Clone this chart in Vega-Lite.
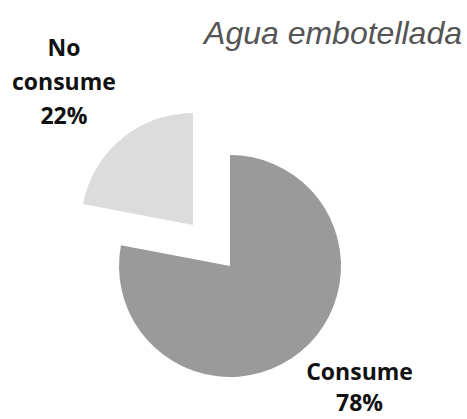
{
  "$schema": "https://vega.github.io/schema/vega-lite/v6.json",
  "autosize": "none",
  "width": 460,
  "height": 306,
  "padding": {"left": 0, "right": 7, "top": 113, "bottom": 0},
  "background": "white",
  "title": {
    "text": "Agua embotellada",
    "anchor": "end",
    "frame": "group",
    "font": "Liberation Sans",
    "fontSize": 32,
    "fontStyle": "italic",
    "fontWeight": "normal",
    "color": "#555555",
    "baseline": "alphabetic",
    "offset": 0,
    "dy": 38,
    "dx": 2
  },
  "data": {
    "values": [
      {"category": "Consume", "value": 78, "label": "Consume\n78%"},
      {"category": "No consume", "value": 22, "label": "No\nconsume\n22%"}
    ]
  },
  "encoding": {
    "theta": {"field": "value", "type": "quantitative", "stack": true, "scale": {"domain": [0, 100]}},
    "order": {"field": "category", "sort": "ascending"}
  },
  "config": {"view": {"stroke": null}},
  "layer": [
    {
      "mark": {"type": "arc", "radius": 111},
      "encoding": {
        "color": {"field": "category", "type": "nominal", "scale": {"domain": ["Consume", "No consume"], "range": ["#9a9a9a", "#dcdcdc"]}, "legend": null},
        "opacity": {"condition": {"test": "datum.category === 'Consume'", "value": 1}, "value": 0}
      }
    },
    {
      "mark": {"type": "arc", "radius": 112, "xOffset": -37, "yOffset": -41},
      "encoding": {
        "color": {"field": "category", "type": "nominal", "legend": null},
        "opacity": {"condition": {"test": "datum.category === 'No consume'", "value": 1}, "value": 0}
      }
    },
    {
      "mark": {"type": "text", "radius": 175, "dx": 18, "dy": -28, "font": "Open Sans", "fontSize": 23, "fontWeight": "bold", "lineBreak": "\n", "lineHeight": 31, "align": "center", "baseline": "middle", "color": "#111111"},
      "encoding": {
        "text": {"field": "label"},
        "opacity": {"condition": {"test": "datum.category === 'Consume'", "value": 1}, "value": 0}
      }
    },
    {
      "mark": {"type": "text", "radius": 248, "dx": -8, "dy": -26, "font": "Open Sans", "fontSize": 23, "fontWeight": "bold", "lineBreak": "\n", "lineHeight": 34, "align": "center", "baseline": "middle", "color": "#111111"},
      "encoding": {
        "text": {"field": "label"},
        "opacity": {"condition": {"test": "datum.category === 'No consume'", "value": 1}, "value": 0}
      }
    }
  ]
}
